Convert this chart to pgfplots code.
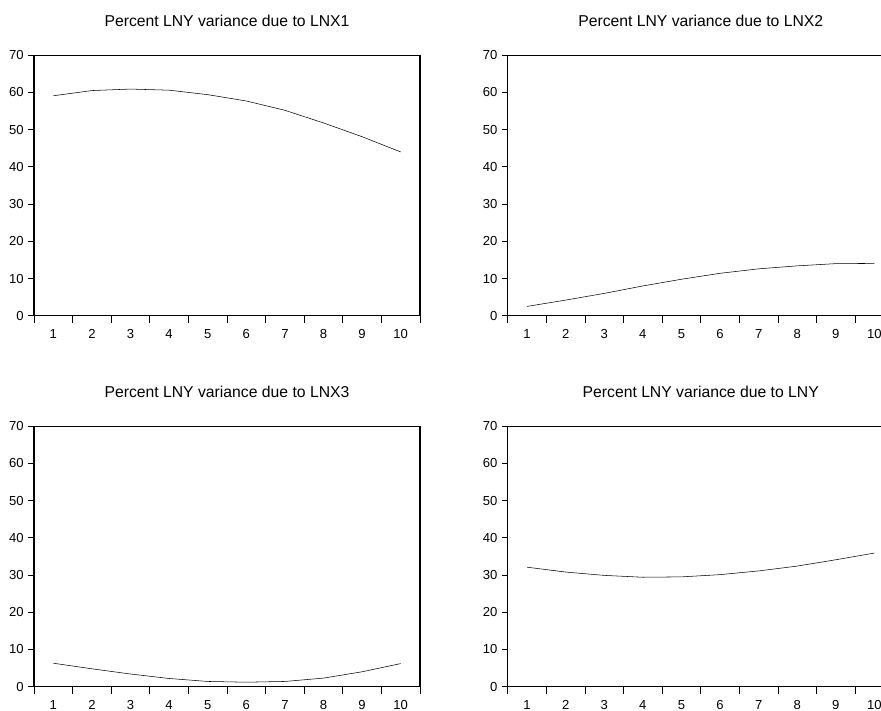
\documentclass[border=0pt]{standalone}
\usepackage{fontspec}
\setmainfont{Liberation Sans}
\usepackage{pgfplots}
\usepackage{pgfplotstable}
\pgfplotsset{compat=1.18}

\pgfplotstableread{
h lnx1 lnx2 lnx3 lny
1 59.1 2.5 6.3 32.1
2 60.5 4.2 4.8 30.8
3 60.9 6.0 3.4 29.9
4 60.6 8.0 2.2 29.4
5 59.4 9.8 1.4 29.5
6 57.7 11.4 1.2 30.1
7 55.2 12.6 1.4 31.1
8 51.8 13.4 2.3 32.4
9 48.1 14.0 4.0 34.1
10 44.0 14.05 6.2 35.9
}\vdtable

\pgfplotsset{
  evstyle/.style={
    scale only axis, width=289.5pt, height=195.4pt,
    anchor=south west,
    xmin=0.5, xmax=10.5, ymin=0, ymax=70,
    xtick={1,...,10}, ytick={0,10,...,70},
    minor xtick={0.5,1.5,...,10.5},
    tick align=outside, xtick pos=bottom, ytick pos=left,
    major tick length=4.3pt, minor tick length=5.25pt,
    axis line style={line width=0.8pt, black},
    every tick/.style={black, line width=0.6pt},
    major x tick style={draw=none},
    /pgf/number format/assume math mode=true,
    tick label style={font=\fontsize{9.8}{11}\selectfont},
    xticklabel style={yshift=-2.5pt},
    title style={font=\fontsize{11.8}{14}\selectfont, at={(0.5,1)}, anchor=center, yshift=19.9pt},
    cycle list={{black, line width=0.9pt, mark=none}},
  }
}

\begin{document}
\begin{tikzpicture}
\useasboundingbox (0pt,0pt) rectangle (660.75pt,532.5pt);
\begin{scope}
\clip (0pt,0pt) rectangle (660.75pt,532.5pt);
\begin{axis}[evstyle, at={(25.5pt,295.7pt)}, title={Percent LNY variance due to LNX1}]
\addplot table[x=h, y=lnx1] {\vdtable};
\end{axis}
\begin{axis}[evstyle, at={(380.8pt,295.7pt)}, title={Percent LNY variance due to LNX2}]
\addplot table[x=h, y=lnx2] {\vdtable};
\end{axis}
\begin{axis}[evstyle, at={(25.5pt,17.5pt)}, title={Percent LNY variance due to LNX3}]
\addplot table[x=h, y=lnx3] {\vdtable};
\end{axis}
\begin{axis}[evstyle, at={(380.8pt,17.5pt)}, title={Percent LNY variance due to LNY}]
\addplot table[x=h, y=lny] {\vdtable};
\end{axis}
\end{scope}
\end{tikzpicture}
\end{document}
